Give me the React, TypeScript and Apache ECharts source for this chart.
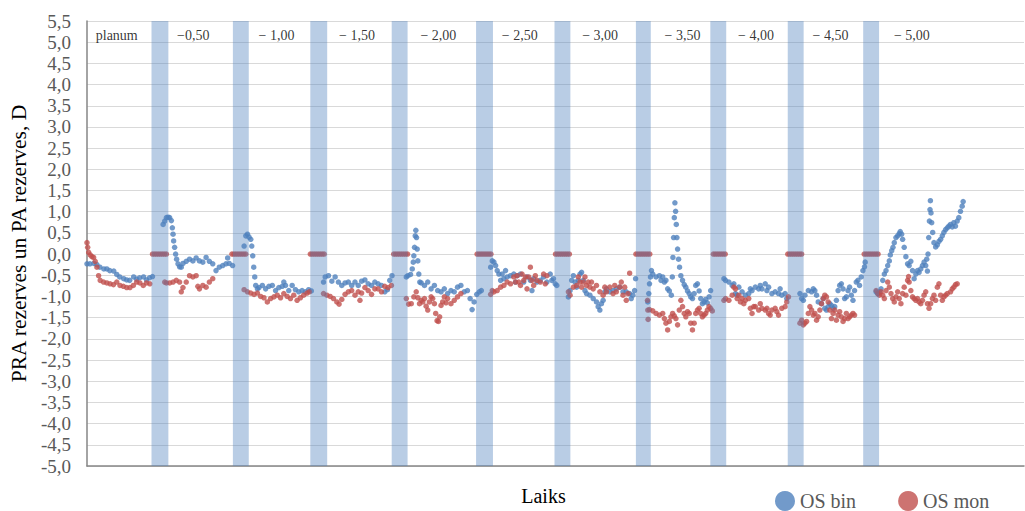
import React, { useEffect, useRef } from "react";
import * as echarts from "echarts";

// ---- data (time axis in arbitrary units, value in dioptres) ----
const yMin = -5;
const yMax = 5.5;
const yStep = 0.5;
const tMax = 944;

const depthLabels = ["planum", "\u22120,50", "\u2212 1,00", "\u2212 1,50", "\u2212 2,00", "\u2212 2,50", "\u2212 3,00", "\u2212 3,50", "\u2212 4,00", "\u2212 4,50", "\u2212 5,00"];
const depthLabelT = [30, 107, 191, 272, 354, 436, 517, 600, 674, 749, 831];

const bandStart = [65, 147, 225, 307, 392, 471, 553, 628, 706, 782];
const bandEnd = [82, 163, 242, 323, 409, 487, 568, 644, 722, 798];

const osBin: [number, number][] = [
  // planum
  [0, -0.23], [3, -0.23], [7, -0.22], [10, -0.25], [13, -0.31], [17, -0.35], [20, -0.35], [23, -0.39], [27, -0.4], [30, -0.48], [33, -0.54], [37, -0.58], [40, -0.61], [43, -0.62], [47, -0.54], [50, -0.59], [53, -0.56], [57, -0.54], [60, -0.61], [63, -0.56], [66, -0.53],
  // -0,50
  [76.7, 0.7], [78.3, 0.78], [80, 0.86], [81.7, 0.87], [83.3, 0.86], [85, 0.79], [86, 0.62], [86.7, 0.47], [87.3, 0.31], [88.3, 0.16], [89.3, 0], [90.3, -0.12], [91.7, -0.23], [93.3, -0.3], [95, -0.31], [96.7, -0.22], [100, -0.17], [103.3, -0.12], [106.7, -0.16], [110, -0.09], [113.3, -0.16], [116.7, -0.19], [120, -0.08], [123.3, -0.17], [126.7, -0.23], [130, -0.39], [133.3, -0.31], [136.7, -0.27], [140, -0.23], [141.7, -0.09], [143.3, -0.22], [146.7, -0.27],
  // -1,00
  [158.3, 0.19], [160, 0.43], [161.7, 0.47], [163.3, 0.4], [165, 0.35], [166, 0.19], [167, -0.04], [168, -0.31], [169, -0.54], [170, -0.74], [171.7, -0.82], [173.3, -0.79], [176.7, -0.74], [180, -0.82], [183.3, -0.76], [186.7, -0.74], [190, -0.86], [193.3, -0.79], [196.7, -0.76], [198.3, -0.66], [200, -0.74], [203.3, -0.86], [206.7, -0.74], [210, -0.84], [213.3, -0.89], [216.7, -0.86], [220, -0.89], [223.3, -0.84], [226, -0.87],
  // -1,50
  [238.3, -0.66], [240, -0.54], [243.3, -0.51], [246.7, -0.64], [250, -0.54], [253.3, -0.66], [256.7, -0.74], [260, -0.68], [263.3, -0.66], [266.7, -0.74], [270, -0.66], [273.3, -0.74], [276.7, -0.64], [280, -0.61], [283.3, -0.7], [286.7, -0.74], [290, -0.66], [293.3, -0.7], [296.7, -0.74], [300, -0.89], [302.7, -0.84], [305, -0.62], [307.3, -0.51],
  // -2,00
  [321.7, -0.54], [323.3, -0.51], [326, -0.48], [327.7, -0.35], [328.7, -0.19], [329.3, -0.04], [330, 0.16], [330.7, 0.43], [331.3, 0.56], [332, 0.39], [332.7, 0.12], [333.3, -0.16], [334.3, -0.47], [335.3, -0.66], [336.7, -0.68], [340, -0.74], [343.3, -0.66], [346.7, -0.82], [350, -0.74], [353.3, -0.86], [356.7, -0.89], [360, -0.82], [363.3, -0.93], [366.7, -0.86], [370, -0.89], [373.3, -0.78], [376.7, -0.74], [380, -0.89], [383.3, -0.86], [386, -1.05], [388, -1.31], [390, -1.13], [392.7, -0.95], [395.3, -0.89], [397.3, -0.86],
  // -2,50
  [406.7, -0.31], [408.3, -0.16], [410, -0.19], [411.7, -0.27], [413.3, -0.39], [415, -0.47], [416.7, -0.62], [418.3, -0.47], [420, -0.58], [421.7, -0.39], [423.3, -0.54], [426.7, -0.51], [430, -0.47], [431.7, -0.66], [433.3, -0.51], [436.7, -0.47], [440, -0.66], [443.3, -0.54], [446.7, -0.62], [448.3, -0.86], [450, -0.58], [453.3, -0.66], [456.7, -0.62], [460, -0.54], [463.3, -0.66], [466.7, -0.47], [468.3, -0.62], [470, -0.58], [471.7, -0.7], [473.3, -0.74],
  // -3,00
  [485, -1.01], [486.7, -0.86], [488.3, -0.62], [490, -0.51], [491.7, -0.66], [493.3, -0.78], [495, -0.62], [496.7, -0.47], [498.3, -0.43], [500, -0.62], [501.7, -0.86], [503.3, -0.93], [506.7, -0.97], [510, -1.05], [513.3, -1.13], [515, -1.24], [516.7, -1.32], [518.3, -1.17], [520, -1.09], [521.7, -0.89], [523.3, -0.82], [526.7, -0.89], [530, -0.86], [533.3, -0.82], [536.7, -0.78], [540, -0.89], [543.3, -0.89], [546.7, -0.93], [548.3, -1.05], [550, -0.97], [551.7, -0.86], [552.7, -0.58],
  // -3,50
  [565, -1.13], [566, -0.93], [566.7, -0.7], [567.7, -0.54], [568.7, -0.39], [570, -0.47], [573.3, -0.54], [576.7, -0.51], [578.3, -0.62], [580, -0.54], [581.7, -0.66], [583.3, -0.62], [585, -0.82], [586.7, -0.87], [588.7, -0.97], [589.7, -0.54], [590.3, -0.08], [591, 0.39], [591.7, 0.86], [592.3, 1.21], [593, 1.01], [593.7, 0.7], [594.3, 0.39], [595, 0.12], [596, -0.12], [597, -0.31], [598.3, -0.51], [600, -0.62], [601.7, -0.72], [603.3, -0.78], [605, -0.87], [606.7, -0.93], [608.3, -1.01], [610, -1.05], [611.7, -0.93], [613.3, -0.74], [615, -0.7], [616.7, -0.87], [618.3, -1.05], [620, -1.17], [621.7, -1.13], [623.3, -1.07], [625, -1.15], [626.7, -1.01], [628.3, -0.86],
  // -4,00
  [641.7, -0.58], [643.3, -0.62], [646.7, -0.66], [650, -0.74], [651.7, -0.7], [653.3, -0.93], [655, -0.97], [656.7, -0.78], [660, -0.89], [663.3, -0.97], [666.7, -0.93], [668.3, -0.82], [670, -0.86], [673.3, -0.78], [676.7, -0.82], [678.3, -0.74], [680, -0.82], [683.3, -0.7], [685, -0.86], [686.7, -0.78], [690, -0.93], [693.3, -0.89], [696.7, -0.93], [698.3, -0.82], [700, -0.97], [703.3, -0.93], [705, -1.05],
  // -4,50
  [718.3, -0.93], [720, -1.05], [721.7, -1.09], [723.3, -0.97], [726.7, -0.86], [730, -0.89], [731.7, -0.82], [733.3, -0.86], [735, -0.97], [736.7, -1.13], [740, -1.17], [741.7, -1.05], [743.3, -1.28], [745, -1.32], [746.7, -1.24], [748.3, -1.17], [750, -1.21], [751.7, -1.28], [753.3, -1.24], [755, -1.09], [756.7, -0.86], [758.3, -0.74], [760, -0.7], [761.7, -0.82], [763.3, -1.05], [765, -1.01], [766.7, -0.86], [768.3, -0.78], [770, -0.97], [771.7, -1.09], [773.3, -0.86], [775, -0.66], [776.7, -0.62], [778.3, -0.74], [780, -0.54], [781.7, -0.39], [783.3, -0.3], [784, -0.19],
  // -5,00
  [795, -0.89], [796.7, -0.93], [798.3, -0.89], [800, -0.82], [801.7, -0.62], [803.3, -0.47], [805, -0.39], [806.7, -0.27], [808.3, -0.16], [809.3, -0.02], [810.7, 0.08], [812, 0.16], [813.3, 0.27], [815, 0.39], [816.7, 0.43], [818.3, 0.48], [819.3, 0.53], [820.7, 0.47], [821.7, 0.35], [823.3, 0.16], [825, -0.06], [826.7, -0.23], [828.3, -0.27], [830, -0.17], [831.7, -0.39], [833.3, -0.58], [835, -0.47], [836.7, -0.39], [838.3, -0.43], [840, -0.35], [841.7, -0.27], [843.3, -0.19], [845, -0.27], [846, -0.12], [846.7, -0.4], [847.3, 0], [848, 0.39], [848.7, 0.78], [849.3, 1.05], [849.7, 1.26], [850.3, 0.97], [851, 0.74], [852, 0.51], [853.3, 0.27], [855, 0.17], [856.7, 0.22], [858.3, 0.3], [860, 0.35], [861.7, 0.43], [863.3, 0.51], [865, 0.58], [866.7, 0.62], [868.3, 0.66], [870, 0.7], [871.7, 0.64], [873.3, 0.74], [875, 0.66], [876.7, 0.78], [878.3, 0.86], [880, 1.01], [881.7, 1.13], [882.7, 1.24],
];

const osMon: [number, number][] = [
  // planum
  [0, 0.27], [0.7, 0.16], [1.7, 0.04], [3.3, -0.02], [5, -0.06], [6.7, -0.08], [8.3, -0.17], [10, -0.31], [11.7, -0.51], [13.3, -0.62], [16.7, -0.66], [20, -0.68], [23.3, -0.7], [26.7, -0.72], [30, -0.66], [33.3, -0.74], [36.7, -0.76], [40, -0.79], [43.3, -0.79], [46.7, -0.74], [50, -0.66], [53.3, -0.68], [56.7, -0.74], [60, -0.68], [63.3, -0.7],
  // -0,50
  [78.3, -0.66], [80, -0.68], [83.3, -0.68], [86.7, -0.66], [90, -0.62], [93.3, -0.66], [95, -0.89], [96.7, -0.79], [100, -0.66], [103.3, -0.51], [106.7, -0.54], [110, -0.51], [111.7, -0.76], [113.3, -0.82], [116.7, -0.74], [120, -0.78], [123.3, -0.66], [126.7, -0.58],
  // -1,00
  [158.3, -0.84], [161.7, -0.89], [165, -0.92], [168.3, -0.95], [171.7, -0.92], [175, -1.0], [178.3, -1.03], [181.7, -1.13], [185, -1.05], [188.3, -1.01], [191.7, -0.97], [195, -1.03], [198.3, -0.93], [201.7, -1.0], [205, -1.05], [208.3, -0.97], [211.7, -1.09], [215, -1.03], [218.3, -0.97], [221.7, -0.92], [224, -0.89],
  // -1,50
  [238.3, -0.93], [241.7, -0.97], [245, -1.0], [248.3, -1.05], [251.7, -1.13], [254, -1.18], [256.7, -1.07], [260, -0.95], [263.3, -0.89], [266.7, -0.86], [270, -0.97], [273.3, -0.89], [275, -1.09], [276.7, -0.92], [280, -0.79], [283.3, -0.86], [286.7, -0.95], [290, -0.82], [293.3, -0.82], [296.7, -0.89], [300, -0.76], [303.3, -0.79], [306.7, -0.74],
  // -2,00
  [321.7, -1.05], [324, -1.18], [326.7, -1.17], [329.3, -1.01], [331.7, -0.89], [333.3, -1.03], [335, -1.17], [336.7, -1.09], [338.3, -1.13], [340, -1.05], [341.7, -1.23], [343.3, -1.32], [345, -1.13], [346.7, -1.01], [348.3, -1.05], [350, -1.17], [351.3, -1.4], [352.7, -1.57], [354, -1.59], [355.3, -1.48], [356.7, -1.21], [358.3, -1.13], [360, -1.01], [361.7, -1.15], [363.3, -1.05], [366.7, -1.17], [370, -1.09], [373.3, -1.01], [376.7, -0.93],
  // -2,50
  [406.7, -0.95], [408.3, -0.86], [410, -0.89], [413.3, -0.86], [416.7, -0.78], [420, -0.74], [423.3, -0.66], [426.7, -0.7], [430, -0.54], [431.7, -0.66], [433.3, -0.51], [435, -0.66], [436.7, -0.74], [438.3, -0.47], [440, -0.62], [441.7, -0.54], [443.3, -0.82], [445, -0.54], [446.7, -0.31], [448.3, -0.62], [450, -0.74], [451.7, -0.51], [453.3, -0.62], [456.7, -0.66], [460, -0.47], [461.7, -0.7], [463.3, -0.51],
  // -3,00
  [485, -0.89], [486.7, -0.97], [490, -0.78], [493.3, -0.74], [495, -0.54], [496.7, -0.66], [498.3, -0.78], [500, -0.66], [501.7, -0.54], [503.3, -0.74], [505, -0.66], [506.7, -0.78], [508.3, -0.66], [510, -0.82], [513.3, -0.74], [516.7, -0.89], [520, -0.97], [521.7, -0.78], [523.3, -0.89], [526.7, -0.78], [530, -0.93], [531.7, -0.74], [533.3, -0.89], [536.7, -0.78], [538.3, -0.66], [540, -0.97], [541.7, -0.78], [543.3, -1.09], [545, -0.93], [546.7, -0.45],
  // -3,50
  [564.7, -1.09], [565, -1.32], [565.3, -1.54], [566.7, -1.31], [570, -1.34], [573.3, -1.4], [576.7, -1.44], [580, -1.4], [581.7, -1.52], [583.3, -1.63], [585, -1.79], [586.7, -1.59], [588.3, -1.48], [590, -1.4], [591.7, -1.46], [593.3, -1.52], [595, -1.67], [596.7, -1.32], [598.3, -1.09], [600, -1.24], [601.7, -1.4], [603.3, -1.48], [605, -1.36], [606.7, -1.4], [608.3, -1.63], [610, -1.79], [611.7, -1.63], [613.3, -1.4], [615, -1.32], [616.7, -1.28], [618.3, -1.4], [620, -1.48], [621.7, -1.44], [623.3, -1.4], [625, -1.32], [626.7, -1.24], [628.3, -1.28], [630, -1.34],
  // -4,00
  [641.7, -1.09], [643.3, -1.05], [646.7, -1.09], [650, -0.97], [651.7, -0.78], [653.3, -0.82], [655, -1.05], [656.7, -0.97], [658.3, -1.13], [660, -1.05], [661.7, -1.17], [663.3, -1.09], [666.7, -1.05], [668.3, -1.28], [670, -1.4], [671.7, -1.24], [673.3, -1.24], [676.7, -1.32], [678.3, -1.17], [680, -1.28], [683.3, -1.32], [685, -1.28], [686.7, -1.4], [688.3, -1.44], [690, -1.32], [693.3, -1.28], [695, -1.36], [696.7, -1.44], [700, -1.28], [703.3, -1.24], [705, -1.13], [706.7, -1.01],
  // -4,50
  [718.3, -1.63], [720, -1.56], [721.7, -1.67], [723.3, -1.63], [725, -1.59], [726.7, -1.4], [728.3, -1.24], [730, -1.32], [731.7, -1.44], [733.3, -1.4], [735, -1.56], [736.7, -1.48], [738.3, -1.32], [740, -1.17], [741.7, -1.05], [743.3, -0.97], [745, -1.01], [746.7, -1.13], [748.3, -1.32], [750, -1.52], [751.7, -1.4], [753.3, -1.32], [755, -1.56], [756.7, -1.44], [758.3, -1.36], [760, -1.48], [761.7, -1.59], [763.3, -1.52], [765, -1.4], [766.7, -1.52], [768.3, -1.48], [770, -1.44], [771.7, -1.4], [773.3, -1.44],
  // -5,00
  [795, -0.86], [796.7, -0.93], [798.3, -0.97], [800, -0.89], [801.7, -0.97], [803.3, -1.05], [805, -0.86], [806.7, -0.66], [808.3, -0.78], [810, -0.93], [811.7, -1.05], [813.3, -1.13], [815, -1.01], [816.7, -0.89], [818.3, -1.05], [820, -1.17], [821.7, -0.93], [823.3, -0.78], [825, -0.97], [826.7, -0.62], [827.7, -0.53], [828.3, -0.66], [830, -0.86], [831.7, -1.01], [833.3, -1.05], [835, -1.09], [836.7, -1.05], [838.3, -1.13], [840, -1.17], [841.7, -1.09], [843.3, -0.97], [845, -0.89], [846.7, -1.17], [848.3, -1.28], [850, -1.17], [851.7, -1.05], [853.3, -0.97], [855, -1.09], [856.7, -0.78], [858.3, -0.7], [860, -0.97], [861.7, -1.09], [863.3, -1.01], [865, -0.97], [866.7, -0.93], [870, -0.89], [871.7, -0.82], [873.3, -0.78], [875, -0.72], [876.7, -0.7],
];

// OS mon readings that sit at exactly 0,0 during each change of lens
const monZeroTimes = [
  66, 68, 70, 72, 74, 76, 78, 80,
  146, 148, 150, 152, 154, 156, 158, 160,
  225, 227, 229, 231, 233, 235, 237, 239,
  309, 311, 313, 315, 317, 319, 321, 323,
  393, 395, 397, 399, 401, 403, 405, 407,
  472, 474, 476, 478, 480, 482, 484, 486,
  553, 555, 557, 559, 561, 563, 565, 567,
  631, 633, 635, 637, 639, 641, 643,
  706, 708, 710, 712, 714, 716, 718, 720,
  783, 785, 787, 789, 791, 793, 795, 797,
];
const monZeroValue = 0;

const SERIF = "'Liberation Serif', 'Times New Roman', serif";

export default function App() {
  const ref = useRef<HTMLDivElement>(null);

  useEffect(() => {
    if (!ref.current) return;
    const chart = echarts.init(ref.current, undefined, { renderer: "svg" });

    const monData = [...monZeroTimes.map((t) => [t, monZeroValue]), ...osMon];

    chart.setOption({
      animation: false,
      backgroundColor: "#ffffff",
      textStyle: { fontFamily: SERIF },
      grid: { left: 80, right: 1, top: 21, bottom: 40, containLabel: false },
      legend: {
        data: [
          { name: "OS bin", icon: "circle" },
          { name: "OS mon", icon: "circle" },
        ],
        left: 770,
        top: 486,
        itemWidth: 20,
        itemHeight: 20,
        itemGap: 42,
        textStyle: { fontFamily: SERIF, fontSize: 20, color: "#595959" },
      },
      xAxis: {
        type: "value",
        min: 0,
        max: tMax,
        name: "Laiks",
        nameLocation: "middle",
        nameGap: 20,
        nameTextStyle: { fontFamily: SERIF, fontSize: 20, color: "#000", padding: [0, 24, 0, 0] },
        axisLine: { show: true, onZero: false, lineStyle: { color: "#868686", width: 1.5 } },
        axisTick: { show: false },
        axisLabel: { show: false },
        splitLine: { show: false },
      },
      yAxis: {
        type: "value",
        min: yMin,
        max: yMax,
        interval: yStep,
        name: "PRA rezerves un PA rezerves, D",
        nameLocation: "middle",
        nameGap: 48,
        nameTextStyle: { fontFamily: SERIF, fontSize: 21.5, color: "#000" },
        axisLine: { show: true, lineStyle: { color: "#868686", width: 1.5 } },
        axisTick: { show: false },
        axisLabel: {
          margin: 16,
          fontFamily: SERIF,
          fontSize: 19,
          color: "#595959",
          formatter: (v: number) => v.toFixed(1).replace(".", ","),
        },
        splitLine: { show: true, lineStyle: { color: "#d9d9d9", width: 1 } },
      },
      series: [
        {
          name: "OS bin",
          type: "scatter",
          data: osBin,
          symbol: "circle",
          symbolSize: 5.5,
          itemStyle: { color: "#4F81BD" },
          z: 2,
        },
        {
          name: "OS mon",
          type: "scatter",
          data: monData,
          symbol: "circle",
          symbolSize: 5.5,
          itemStyle: { color: "#C0504D" },
          z: 3,
        },
        {
          name: "bands",
          type: "custom",
          silent: true,
          z: 10,
          data: bandStart.map((s, i) => [s, bandEnd[i], yMin, yMax]),
          encode: { x: [0, 1], y: [2, 3] },
          renderItem: (_params: any, api: any) => {
            const p0 = api.coord([api.value(0), api.value(3)]);
            const p1 = api.coord([api.value(1), api.value(2)]);
            return {
              type: "rect",
              shape: { x: p0[0], y: p0[1], width: p1[0] - p0[0], height: p1[1] - p0[1] },
              style: { fill: "rgba(79,129,189,0.4)" },
            };
          },
        },
        {
          name: "depths",
          type: "scatter",
          symbolSize: 0,
          silent: true,
          z: 11,
          data: depthLabelT.map((t, i) => ({ value: [t, 5.15], name: depthLabels[i] })),
          label: {
            show: true,
            position: "inside",
            formatter: "{b}",
            fontFamily: SERIF,
            fontSize: 14,
            color: "#000",
          },
        },
      ],
    });

    return () => chart.dispose();
  }, []);

  return (
    <div
      ref={ref}
      style={{ position: "absolute", left: 0, top: 0, width: 1025, height: 511 }}
    />
  );
}
